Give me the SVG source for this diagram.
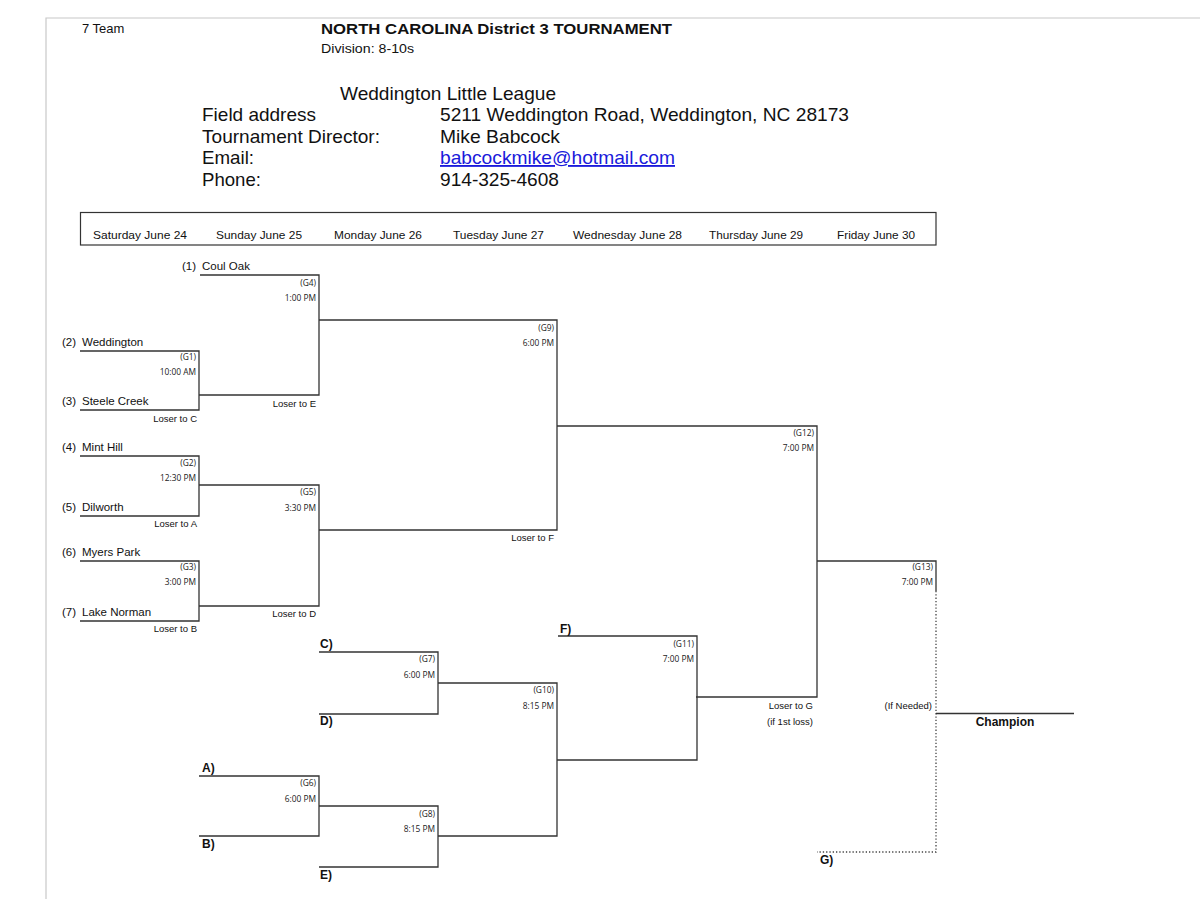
<svg xmlns="http://www.w3.org/2000/svg" width="1200" height="899" viewBox="0 0 1200 899">
<style>
.bg{fill:#fff}
.page{stroke:#c8c8c8;stroke-width:1.2;fill:none}
.br{stroke:#333;stroke-width:1.3;fill:none}
.dot{stroke:#444;stroke-width:1.3;fill:none;stroke-dasharray:1.3 2}
text{font-family:"Liberation Sans",Arial,sans-serif;fill:#111}
.hd{font-size:18.5px}
.day{font-size:11.5px}
.team{font-size:11.5px}
.gm{font-family:"Open Sans","Noto Sans",sans-serif;font-size:8.4px;text-anchor:end;fill:#222}
.los{font-size:9.5px;text-anchor:end}
.let{font-size:12px;font-weight:bold}
</style>
<rect class="bg" x="0" y="0" width="1200" height="899"/>
<path class="page" d="M46,899 V18 H1200"/>

<g id="header">
<text x="82" y="33" style="font-size:13px">7 Team</text>
<text x="321" y="34" style="font-size:15.5px;font-weight:bold" textLength="351" lengthAdjust="spacingAndGlyphs">NORTH CAROLINA District 3 TOURNAMENT</text>
<text x="321" y="52.5" style="font-size:12.5px" textLength="93" lengthAdjust="spacingAndGlyphs">Division: 8-10s</text>
<text class="hd" x="340" y="100" textLength="216" lengthAdjust="spacingAndGlyphs">Weddington Little League</text>
<text class="hd" x="202" y="121" textLength="114" lengthAdjust="spacingAndGlyphs">Field address</text>
<text class="hd" x="440" y="121" textLength="409" lengthAdjust="spacingAndGlyphs">5211 Weddington Road, Weddington, NC 28173</text>
<text class="hd" x="202" y="143" textLength="178" lengthAdjust="spacingAndGlyphs">Tournament Director:</text>
<text class="hd" x="440" y="143" textLength="120" lengthAdjust="spacingAndGlyphs">Mike Babcock</text>
<text class="hd" x="202" y="164" textLength="52" lengthAdjust="spacingAndGlyphs">Email:</text>
<text class="hd" x="440" y="164" style="fill:#1a1adb;text-decoration:underline" textLength="235" lengthAdjust="spacingAndGlyphs">babcockmike@hotmail.com</text>
<text class="hd" x="202" y="186" textLength="59" lengthAdjust="spacingAndGlyphs">Phone:</text>
<text class="hd" x="440" y="186" textLength="119" lengthAdjust="spacingAndGlyphs">914-325-4608</text>
</g>

<g id="days">
<rect x="80.5" y="212.5" width="855.5" height="32.5" fill="none" stroke="#333" stroke-width="1.2"/>
<text class="day" x="93" y="239" textLength="94" lengthAdjust="spacingAndGlyphs">Saturday June 24</text>
<text class="day" x="216" y="239" textLength="86" lengthAdjust="spacingAndGlyphs">Sunday June 25</text>
<text class="day" x="334" y="239" textLength="88" lengthAdjust="spacingAndGlyphs">Monday June 26</text>
<text class="day" x="453" y="239" textLength="91" lengthAdjust="spacingAndGlyphs">Tuesday June 27</text>
<text class="day" x="573" y="239" textLength="109" lengthAdjust="spacingAndGlyphs">Wednesday June 28</text>
<text class="day" x="709" y="239" textLength="94" lengthAdjust="spacingAndGlyphs">Thursday June 29</text>
<text class="day" x="837" y="239" textLength="78" lengthAdjust="spacingAndGlyphs">Friday June 30</text>
</g>

<g id="teams">
<text class="team" x="182" y="270">(1)</text><text class="team" x="202" y="270">Coul Oak</text>
<text class="team" x="62" y="346">(2)</text><text class="team" x="82" y="346">Weddington</text>
<text class="team" x="62" y="405">(3)</text><text class="team" x="82" y="405">Steele Creek</text>
<text class="team" x="62" y="451">(4)</text><text class="team" x="82" y="451">Mint Hill</text>
<text class="team" x="62" y="511">(5)</text><text class="team" x="82" y="511">Dilworth</text>
<text class="team" x="62" y="556">(6)</text><text class="team" x="82" y="556">Myers Park</text>
<text class="team" x="62" y="616">(7)</text><text class="team" x="82" y="616">Lake Norman</text>
</g>

<g id="connectors">
<path class="br" d="M200,275 H319 V395 H199"/>
<path class="br" d="M199,485 H319 V606 H199"/>
<path class="br" d="M319,320 H557 V530 H319"/>
<path class="br" d="M557,426 H817 V697 H696"/>
<path class="br" d="M817,561 H936 V591"/>
<path class="dot" d="M936,591 V852 H817"/>
<path class="br" d="M936,713.5 H1074"/>
<path class="br" d="M438,683 H557 V836 H438"/>
<path class="br" d="M558,636 H697 V760 H557"/>
<path class="br" d="M319,806 H438 V867 H319"/>
</g>

<g id="G1">
<path class="br" d="M80,351 H199 V410 H80"/>
<text class="gm" x="196" y="360">(G1)</text>
<text class="gm" x="196" y="375">10:00 AM</text>
<text class="los" x="197" y="421.5">Loser to C</text>
</g>
<g id="G2">
<path class="br" d="M80,456 H199 V516 H80"/>
<text class="gm" x="196" y="466">(G2)</text>
<text class="gm" x="196" y="481">12:30 PM</text>
<text class="los" x="197" y="526.5">Loser to A</text>
</g>
<g id="G3">
<path class="br" d="M80,561 H199 V621 H80"/>
<text class="gm" x="196" y="570">(G3)</text>
<text class="gm" x="196" y="585">3:00 PM</text>
<text class="los" x="197" y="631.5">Loser to B</text>
</g>
<g id="G4">
<text class="gm" x="316" y="286">(G4)</text>
<text class="gm" x="316" y="301">1:00 PM</text>
<text class="los" x="316" y="406.5">Loser to E</text>
</g>
<g id="G5">
<text class="gm" x="316" y="495">(G5)</text>
<text class="gm" x="316" y="511">3:30 PM</text>
<text class="los" x="316" y="616.5">Loser to D</text>
</g>
<g id="G9">
<text class="gm" x="554" y="331">(G9)</text>
<text class="gm" x="554" y="346">6:00 PM</text>
<text class="los" x="554" y="541">Loser to F</text>
</g>
<g id="G12">
<text class="gm" x="814" y="436">(G12)</text>
<text class="gm" x="814" y="451">7:00 PM</text>
<text class="los" x="813" y="708.5">Loser to G</text>
<text class="los" x="813" y="724.5">(if 1st loss)</text>
</g>
<g id="G13">
<text class="gm" x="933" y="570">(G13)</text>
<text class="gm" x="933" y="585">7:00 PM</text>
<text class="los" x="932" y="708.5">(If Needed)</text>
</g>
<g id="champion">
<text x="1005" y="725.5" style="font-size:12px;font-weight:bold;text-anchor:middle">Champion</text>
</g>
<g id="G7">
<path class="br" d="M319,652 H438 V714 H319"/>
<text class="let" x="320" y="647.5">C)</text>
<text class="let" x="320" y="724.5">D)</text>
<text class="gm" x="435" y="662">(G7)</text>
<text class="gm" x="435" y="678">6:00 PM</text>
</g>
<g id="G6">
<path class="br" d="M199,776 H319 V836 H199"/>
<text class="let" x="202" y="771.5">A)</text>
<text class="let" x="202" y="847.5">B)</text>
<text class="gm" x="316" y="786">(G6)</text>
<text class="gm" x="316" y="802">6:00 PM</text>
</g>
<g id="G8">
<text class="let" x="320" y="878.5">E)</text>
<text class="gm" x="435" y="817">(G8)</text>
<text class="gm" x="435" y="832">8:15 PM</text>
</g>
<g id="G10">
<text class="gm" x="554" y="693">(G10)</text>
<text class="gm" x="554" y="709">8:15 PM</text>
</g>
<g id="G11">
<text class="let" x="560" y="632.5">F)</text>
<text class="gm" x="694" y="647">(G11)</text>
<text class="gm" x="694" y="662">7:00 PM</text>
</g>
<g id="G">
<text class="let" x="820" y="863.5">G)</text>
</g>
</svg>
